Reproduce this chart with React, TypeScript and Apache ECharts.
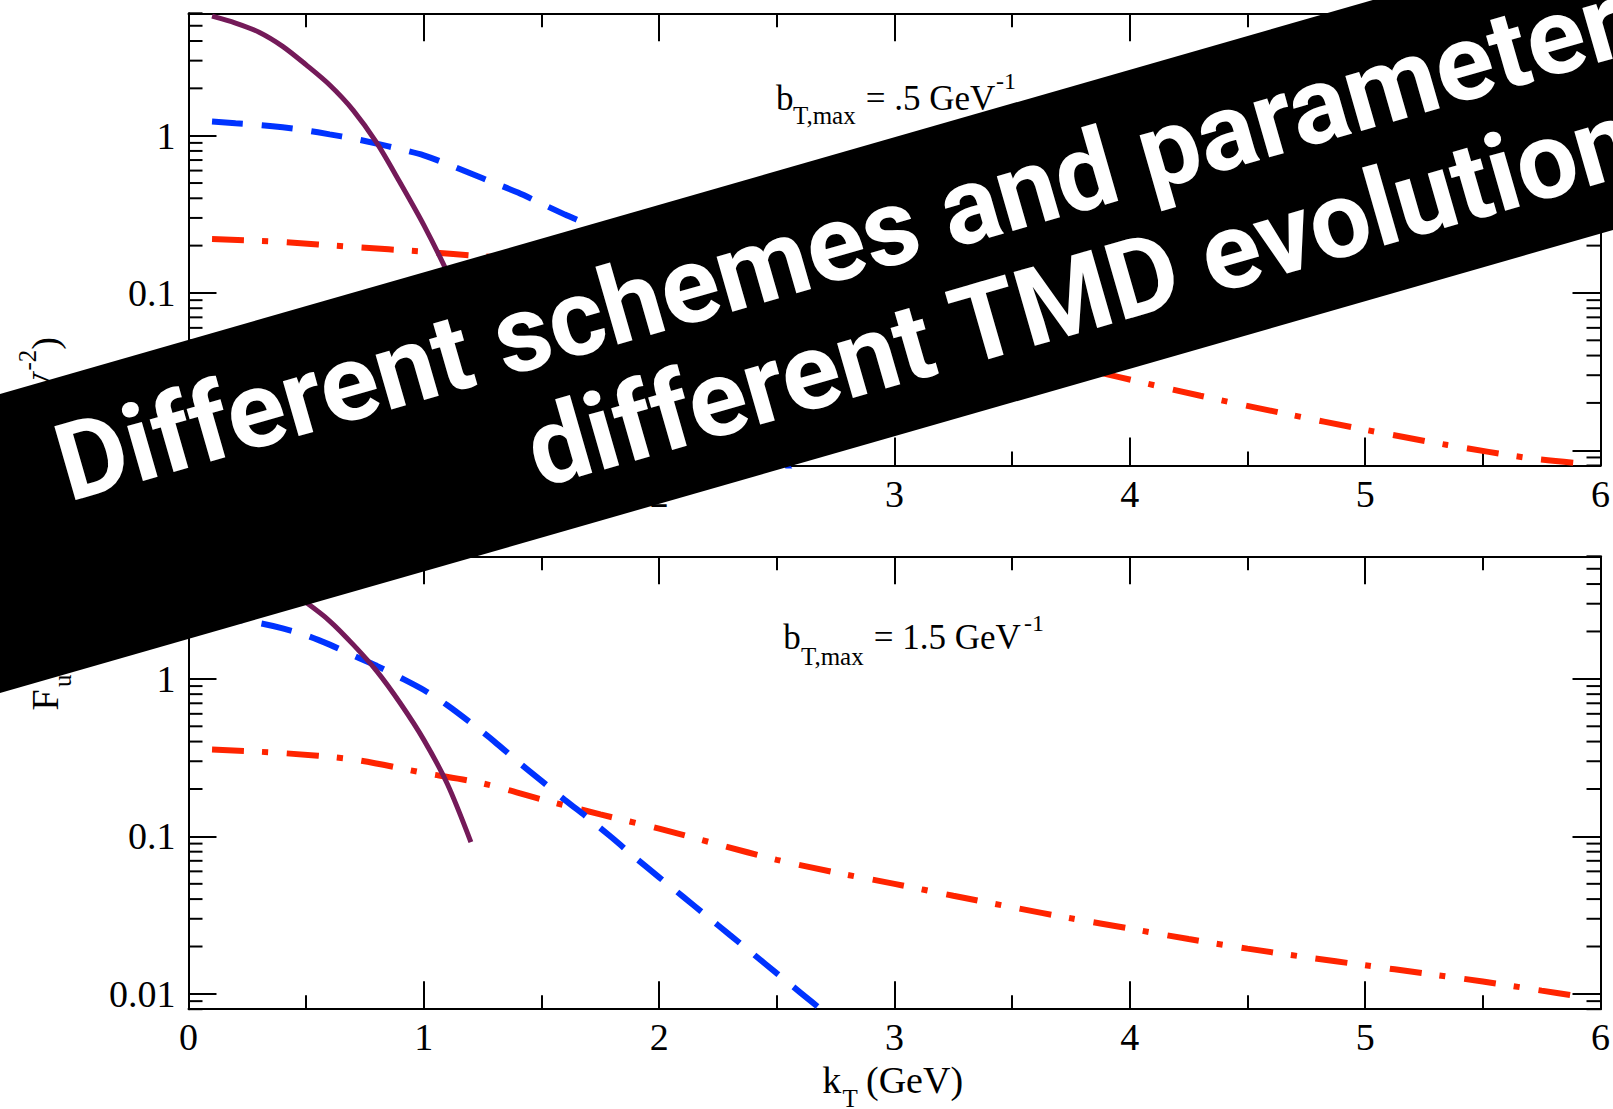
import React, { useEffect, useRef } from 'react';
import * as echarts from 'echarts';

// ---------------- data ----------------
const xTickLabels = ['0', '1', '2', '3', '4', '5', '6'];
const yTickLabels = ['0.01', '0.1', '1'];
const yMinorTicks = [0.008, 0.009, 0.02, 0.03, 0.04, 0.05, 0.06, 0.07, 0.08, 0.09, 0.2, 0.3, 0.4, 0.5, 0.6, 0.7, 0.8, 0.9, 2, 3, 4, 5, 6];

// top panel: b_T,max = .5 GeV^-1
const topPurpleX = [0.1, 0.2, 0.3, 0.4, 0.5, 0.6, 0.7, 0.8, 0.9, 1.0, 1.1, 1.2];
const topPurpleY = [5.75, 5.2, 4.55, 3.7, 2.82, 2.1, 1.45, 0.9, 0.5, 0.27, 0.135, 0.062];
const topBlueX = [0.1, 0.2, 0.3, 0.4, 0.5, 0.6, 0.7, 0.8, 0.9, 1.0, 1.1, 1.2, 1.3, 1.4, 1.5, 1.6, 1.7, 1.8, 1.9, 2.0, 2.1, 2.2, 2.3, 2.4, 2.5, 2.6];
const topBlueY = [1.23, 1.2, 1.17, 1.13, 1.08, 1.02, 0.96, 0.89, 0.82, 0.75, 0.66, 0.575, 0.5, 0.435, 0.37, 0.315, 0.27, 0.22, 0.17, 0.125, 0.087, 0.056, 0.033, 0.019, 0.0105, 0.0056];
const topRedX = [0.1, 0.4, 0.7, 1.0, 1.25, 1.5, 2.0, 2.5, 3.0, 3.5, 3.95, 4.3, 4.65, 5.0, 5.35, 5.7, 5.9];
const topRedY = [0.22, 0.211, 0.196, 0.183, 0.171, 0.16, 0.128, 0.093, 0.064, 0.042, 0.0293, 0.0222, 0.0172, 0.0135, 0.0108, 0.0089, 0.0083];

// bottom panel: b_T,max = 1.5 GeV^-1
const botPurpleX = [0.1, 0.2, 0.3, 0.4, 0.5, 0.6, 0.7, 0.8, 0.9, 1.0, 1.1, 1.2];
const botPurpleY = [5.9, 5.4, 4.7, 3.85, 3.05, 2.33, 1.65, 1.12, 0.7, 0.41, 0.215, 0.092];
const botBlueX = [0.1, 0.2, 0.3, 0.4, 0.5, 0.6, 0.7, 0.8, 0.9, 1.0, 1.1, 1.2, 1.3, 1.4, 1.5, 1.6, 1.7, 1.8, 1.9, 2.0, 2.1, 2.2, 2.3, 2.4, 2.5, 2.6, 2.7, 2.8];
const botBlueY = [2.45, 2.38, 2.26, 2.09, 1.89, 1.65, 1.41, 1.21, 1.02, 0.85, 0.68, 0.525, 0.4, 0.298, 0.225, 0.17, 0.13, 0.098, 0.073, 0.055, 0.0416, 0.0314, 0.0237, 0.0179, 0.0135, 0.0102, 0.0077, 0.0058];
const botRedX = [0.1, 0.4, 0.7, 1.0, 1.25, 1.5, 1.75, 2.0, 2.25, 2.5, 2.75, 3.0, 3.25, 3.5, 3.75, 4.0, 4.25, 4.5, 4.75, 5.0, 5.25, 5.5, 5.75, 5.9];
const botRedY = [0.356, 0.338, 0.308, 0.253, 0.217, 0.172, 0.138, 0.112, 0.089, 0.071, 0.059, 0.05, 0.042, 0.0355, 0.0302, 0.026, 0.0223, 0.0194, 0.0171, 0.0152, 0.0135, 0.012, 0.0105, 0.0097];

const topNote = ['b', 'T,max', ' = .5 GeV', '-1'];
const botNote = ['b', 'T,max', ' = 1.5 GeV', '-1'];
const xTitle = ['k', 'T', '(GeV)'];
const yTitle = ['F', 'u', '(GeV', '-2', ')'];
const bannerLines = ['Different schemes and parameters', 'different TMD evolution'];

// ---------------- styles / layout ----------------
const SERIF = '"Liberation Serif", "Times New Roman", serif';
const PURPLE = '#741a59';
const BLUE = '#0033ff';
const RED = '#ff2400';
const GRID_L = 188.5;
const GRID_W = 1414;

const zip = (xs: number[], ys: number[]) => xs.map((x, i) => [x, ys[i]]);

function serifText(text: string, x: number, baseline: number, fs: number, z = 50, align = 'left') {
  return {
    type: 'text',
    z,
    style: {
      text,
      x,
      y: baseline - 0.3375 * fs,
      fontSize: fs,
      fontFamily: SERIF,
      fill: '#000',
      align,
      verticalAlign: 'middle',
    },
  };
}

function xAxisDef(gridIndex: number, top: boolean) {
  return {
    type: 'value',
    gridIndex,
    position: top ? 'top' : 'bottom',
    min: 0,
    max: 6,
    interval: 1,
    axisLine: { show: true, onZero: false, lineStyle: { color: '#000', width: 2 } },
    axisTick: { show: true, inside: true, length: 28, lineStyle: { color: '#000', width: 2 } },
    minorTick: { show: true, splitNumber: 2, length: 14, lineStyle: { color: '#000', width: 2 } },
    splitLine: { show: false },
    axisLabel: {
      show: !top,
      margin: 9,
      fontSize: 38,
      fontFamily: SERIF,
      color: '#000',
      formatter: (v: number) => xTickLabels[Math.round(v)] ?? '',
    },
  };
}

function yAxisDef(gridIndex: number, right: boolean) {
  return {
    type: 'log',
    logBase: 10,
    gridIndex,
    position: right ? 'right' : 'left',
    min: 0.008,
    max: 6,
    axisLine: { show: true, onZero: false, lineStyle: { color: '#000', width: 2 } },
    axisTick: { show: true, inside: true, length: 28, lineStyle: { color: '#000', width: 2 } },
    splitLine: { show: false },
    axisLabel: {
      show: !right,
      margin: 13,
      fontSize: 38,
      fontFamily: SERIF,
      color: '#000',
      formatter: (v: number) => {
        const l = Math.log10(v);
        const r = Math.round(l);
        if (Math.abs(l - r) > 1e-6) return '';
        return yTickLabels[r + 2] ?? '';
      },
    },
  };
}

function lineSeries(data: number[][], axis: number, color: string, width: number, dash: number[] | 'solid') {
  return {
    type: 'line',
    xAxisIndex: axis,
    yAxisIndex: axis,
    data,
    showSymbol: false,
    symbol: 'none',
    smooth: 0.3,
    clip: true,
    z: 3,
    lineStyle: { color, width, type: dash, cap: 'butt' },
  };
}

function minorTickSeries(axis: number) {
  return {
    type: 'custom',
    xAxisIndex: axis,
    yAxisIndex: axis,
    z: 4,
    silent: true,
    data: yMinorTicks.map((v) => [0, v]),
    renderItem: (_p: any, api: any) => {
      const v = api.value(1);
      const pl = api.coord([0, v]);
      const pr = api.coord([6, v]);
      const st = { stroke: '#000', lineWidth: 2 };
      return {
        type: 'group',
        children: [
          { type: 'line', shape: { x1: pl[0], y1: pl[1], x2: pl[0] + 14, y2: pl[1] }, style: st },
          { type: 'line', shape: { x1: pr[0] - 14, y1: pr[1], x2: pr[0], y2: pr[1] }, style: st },
        ],
      };
    },
  };
}

export default function App() {
  const ref = useRef<HTMLDivElement>(null);
  useEffect(() => {
    if (!ref.current) return;
    document.body.style.margin = '0';
    const chart = echarts.init(ref.current, undefined, { renderer: 'svg' });

    const tanT = 0.287;
    const theta = Math.atan(tanT);
    const topEdge = 394;
    const botEdge = 693;
    const bannerFs = 108;
    const cent = 0.342 * bannerFs;

    const option = {
      animation: false,
      backgroundColor: '#fff',
      grid: [
        { left: GRID_L, top: 13.3, width: GRID_W, height: 452.2, containLabel: false },
        { left: GRID_L, top: 556.3, width: GRID_W, height: 452.9, containLabel: false },
      ],
      xAxis: [xAxisDef(0, false), xAxisDef(0, true), xAxisDef(1, false), xAxisDef(1, true)],
      yAxis: [yAxisDef(0, false), yAxisDef(0, true), yAxisDef(1, false), yAxisDef(1, true)],
      series: [
        lineSeries(zip(topRedX, topRedY), 0, RED, 6, [32, 18, 6, 19]),
        lineSeries(zip(topBlueX, topBlueY), 0, BLUE, 6, [31, 19]),
        lineSeries(zip(topPurpleX, topPurpleY), 0, PURPLE, 5, 'solid'),
        lineSeries(zip(botRedX, botRedY), 2, RED, 6, [32, 18, 6, 19]),
        lineSeries(zip(botBlueX, botBlueY), 2, BLUE, 6, [31, 19]),
        lineSeries(zip(botPurpleX, botPurpleY), 2, PURPLE, 5, 'solid'),
        minorTickSeries(0),
        minorTickSeries(2),
      ],
      graphic: [
        // annotations
        serifText(topNote[0], 776, 110.5, 35),
        serifText(topNote[1], 793, 124, 25),
        serifText(topNote[2], 857, 110.5, 35),
        serifText(topNote[3], 996, 89.5, 24),
        serifText(botNote[0], 783.3, 649, 35),
        serifText(botNote[1], 801, 665, 25),
        serifText(botNote[2], 865, 649, 35),
        serifText(botNote[3], 1024, 631, 24),
        // x axis title
        serifText(xTitle[0], 822.3, 1093, 38),
        serifText(xTitle[1], 842.5, 1107, 25),
        serifText(xTitle[2], 866, 1093, 38),
        // y axis title (rotated)
        {
          type: 'group',
          x: 58,
          y: 710.6,
          rotation: Math.PI / 2,
          z: 50,
          children: [
            serifText(yTitle[0], 0, 0, 38),
            serifText(yTitle[1], 23.5, 13, 25),
            serifText(yTitle[2], 340.1, 0, 38, 50, 'right'),
            serifText(yTitle[3], 360.9, -22, 25, 50, 'right'),
            serifText(yTitle[4], 373.6, 0, 38, 50, 'right'),
          ],
        },
        // banner
        {
          type: 'polygon',
          z: 100,
          shape: {
            points: [
              [-20, topEdge + 20 * tanT],
              [1700, topEdge - 1700 * tanT],
              [1700, botEdge - 1700 * tanT],
              [-20, botEdge + 20 * tanT],
            ],
          },
          style: { fill: '#000' },
        },
        {
          type: 'text',
          z: 101,
          x: 69,
          y: 502,
          rotation: theta,
          style: {
            text: bannerLines[0],
            x: 0,
            y: -cent,
            fontSize: bannerFs,
            fontFamily: 'Roboto',
            fontWeight: 'bold',
            fill: '#fff',
            align: 'left',
            verticalAlign: 'middle',
          },
        },
        {
          type: 'text',
          z: 101,
          x: 539.5,
          y: 488,
          rotation: theta,
          style: {
            text: bannerLines[1],
            x: 0,
            y: -cent,
            fontSize: bannerFs,
            fontFamily: 'Roboto',
            fontWeight: 'bold',
            fill: '#fff',
            align: 'left',
            verticalAlign: 'middle',
          },
        },
      ],
    };

    chart.setOption(option as any);
    return () => chart.dispose();
  }, []);

  return (
    <div
      ref={ref}
      style={{ position: 'absolute', left: 0, top: 0, width: 1613, height: 1109, background: '#fff' }}
    />
  );
}
